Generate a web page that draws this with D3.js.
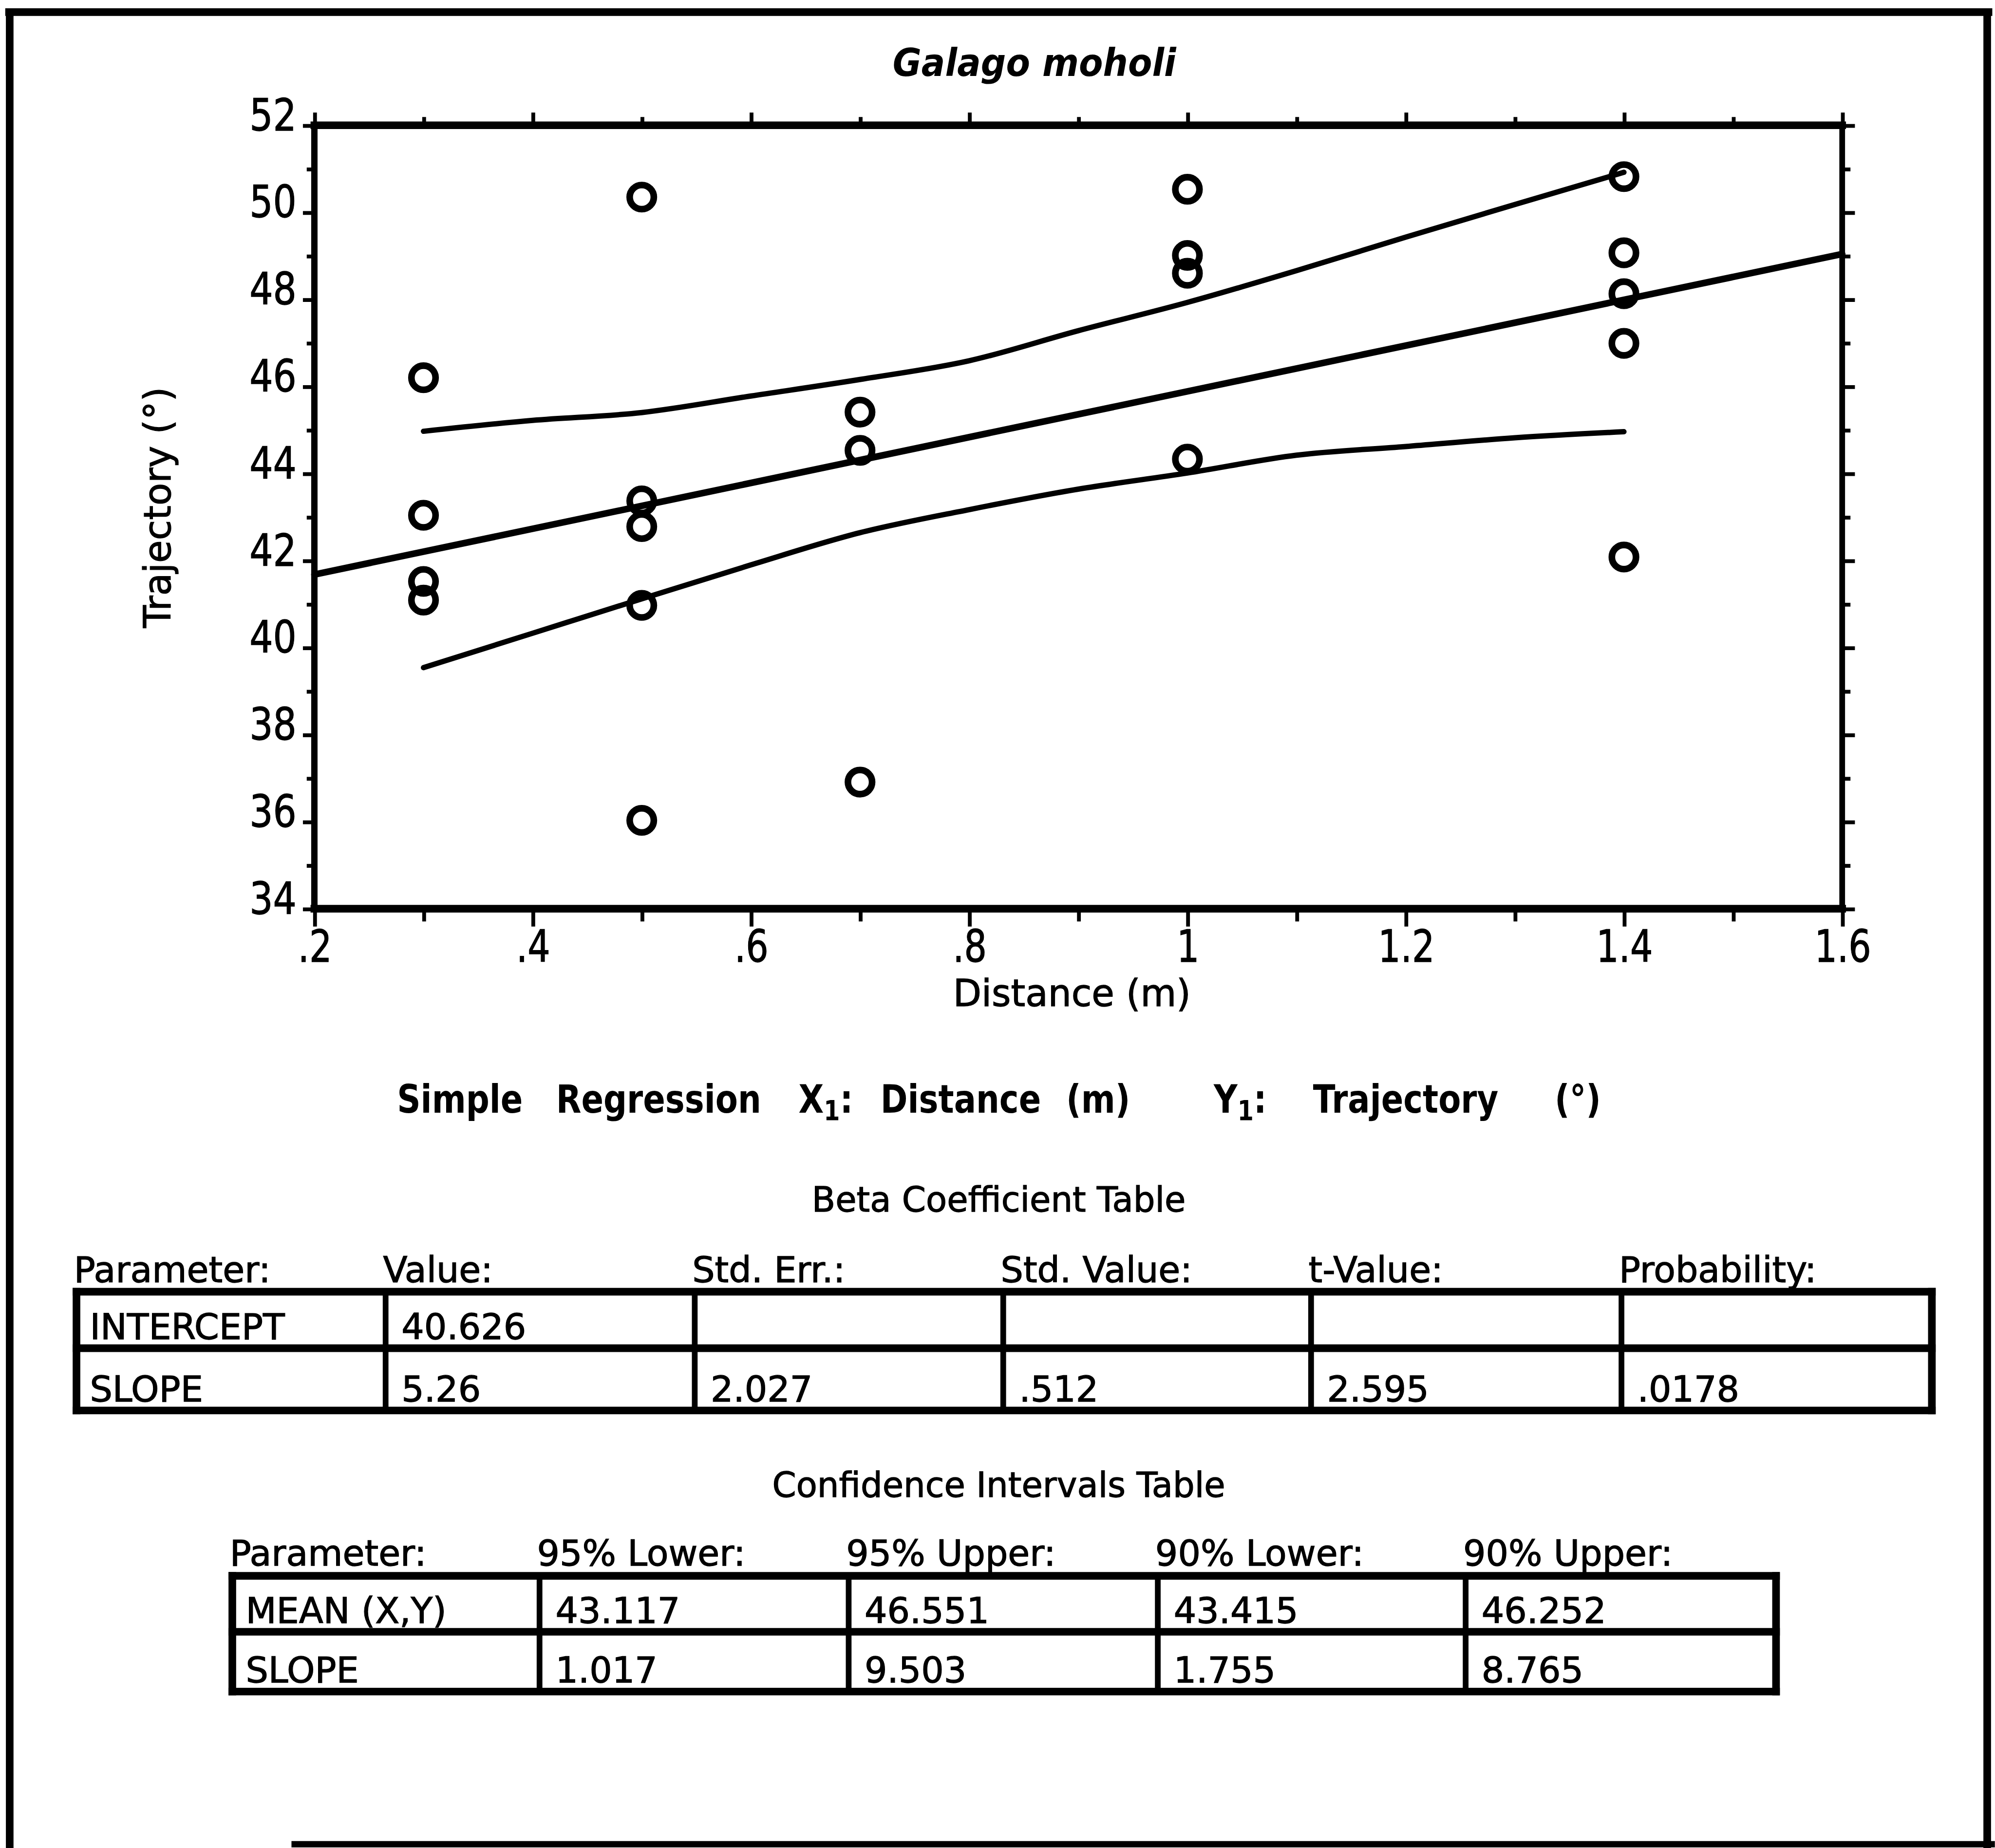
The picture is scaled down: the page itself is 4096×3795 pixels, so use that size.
<!DOCTYPE html>
<html>
<head>
<meta charset="utf-8">
<script src="https://cdn.jsdelivr.net/npm/d3@7"></script>
<style>
  html, body { margin: 0; padding: 0; background: #fff; }
  svg { display: block; background: #fff; }
  text { font-family: "DejaVu Sans", sans-serif; fill: #000; }
  .heavy { stroke: #000; stroke-width: 0.5px; }
</style>
</head>
<body>
<svg id="chart"></svg>
<script>
// ---- data ----
const distance = [0.3, 0.3, 0.3, 0.3,
                  0.5, 0.5, 0.5, 0.5, 0.5,
                  0.7, 0.7, 0.7,
                  1.0, 1.0, 1.0, 1.0,
                  1.4, 1.4, 1.4, 1.4, 1.4];
const trajectory = [46.20, 43.04, 41.52, 41.09,
                    50.35, 43.37, 42.78, 40.97, 36.03,
                    45.41, 44.53, 36.91,
                    50.53, 49.01, 48.60, 44.33,
                    50.82, 49.07, 48.13, 46.99, 42.08];

const intercept = 40.626;
const slope = 5.26;
const fitX = [0.2, 1.6];

const bandX = [0.3, 0.4, 0.5, 0.6, 0.7, 0.8, 0.9, 1.0, 1.1, 1.2, 1.3, 1.4];
const bandUpper = [44.97, 45.22, 45.40, 45.78, 46.16, 46.59, 47.28, 47.93, 48.66, 49.43, 50.18, 50.92];
const bandLower = [39.54, 40.33, 41.12, 41.90, 42.64, 43.17, 43.64, 44.01, 44.42, 44.62, 44.82, 44.96];

const xMajor = [0.2, 0.4, 0.6, 0.8, 1.0, 1.2, 1.4, 1.6];
const xMajorLabels = [".2", ".4", ".6", ".8", "1", "1.2", "1.4", "1.6"];
const xMinor = [0.3, 0.5, 0.7, 0.9, 1.1, 1.3, 1.5];
const yMajor = [34, 36, 38, 40, 42, 44, 46, 48, 50, 52];
const yMinor = [35, 37, 39, 41, 43, 45, 47, 49, 51];

const chartTitle = "Galago moholi";
const xTitle = "Distance (m)";
const yTitle = "Trajectory (\u00b0)";

const regWords = ["Simple", "Regression", "X|1|:", "Distance", "(m)", "Y|1|:", "Trajectory", "(\u00b0)"];

const betaTitle = "Beta Coefficient Table";
const betaHeaders = ["Parameter:", "Value:", "Std. Err.:", "Std. Value:", "t-Value:", "Probability:"];
const betaRows = [
  ["INTERCEPT", "40.626", "", "", "", ""],
  ["SLOPE", "5.26", "2.027", ".512", "2.595", ".0178"]
];

const ciTitle = "Confidence Intervals Table";
const ciHeaders = ["Parameter:", "95% Lower:", "95% Upper:", "90% Lower:", "90% Upper:"];
const ciRows = [
  ["MEAN (X,Y)", "43.117", "46.551", "43.415", "46.252"],
  ["SLOPE", "1.017", "9.503", "1.755", "8.765"]
];

// ---- drawing (coordinates in a 1568 x 1453 box, scaled to the window) ----
const svg = d3.select("#chart")
  .attr("width", 4096)
  .attr("height", 3795)
  .attr("viewBox", "0 0 1568 1453");

function squeeze(sel, f) {
  sel.each(function () {
    const w = this.getComputedTextLength();
    d3.select(this).attr("textLength", w * f).attr("lengthAdjust", "spacingAndGlyphs");
  });
}

// outer frame
const frame = svg.append("g").attr("stroke", "#000").attr("fill", "none");
frame.append("line").attr("x1", 4).attr("x2", 1566).attr("y1", 9.5).attr("y2", 9.5).attr("stroke-width", 6);
frame.append("line").attr("x1", 7.5).attr("x2", 7.5).attr("y1", 7).attr("y2", 1453).attr("stroke-width", 6);
frame.append("line").attr("x1", 1562).attr("x2", 1562).attr("y1", 7).attr("y2", 1453).attr("stroke-width", 6);
frame.append("line").attr("x1", 229).attr("x2", 1568).attr("y1", 1450).attr("y2", 1450).attr("stroke-width", 5);

const x = d3.scaleLinear().domain([0.2, 1.6]).range([247, 1448]);
const y = d3.scaleLinear().domain([34, 52]).range([714.5, 98.5]);

function styleAxis(g) {
  g.select(".domain").remove();
  g.attr("font-family", null).attr("font-size", null);
  g.selectAll(".tick line").attr("stroke", "#000").attr("stroke-width", 3);
}

// bottom axis
const gb = svg.append("g").attr("transform", `translate(0,${y(34)})`)
  .call(d3.axisBottom(x).tickValues(xMajor).tickSize(14).tickFormat((d, i) => xMajorLabels[i]))
  .call(styleAxis);
gb.selectAll("text").attr("y", 41.5).attr("dy", 0).attr("class", "heavy")
  .style("font-size", "35px").call(squeeze, 0.8);
svg.append("g").attr("transform", `translate(0,${y(34)})`)
  .call(d3.axisBottom(x).tickValues(xMinor).tickSize(10).tickFormat(""))
  .call(styleAxis);

// top axis
svg.append("g").attr("transform", `translate(0,${y(52)})`)
  .call(d3.axisTop(x).tickValues(xMajor).tickSize(10).tickFormat(""))
  .call(styleAxis);
svg.append("g").attr("transform", `translate(0,${y(52)})`)
  .call(d3.axisTop(x).tickValues(xMinor).tickSize(6.5).tickFormat(""))
  .call(styleAxis);

// left axis
const gl = svg.append("g").attr("transform", `translate(${x(0.2)},0)`)
  .call(d3.axisLeft(y).tickValues(yMajor).tickSize(9).tickFormat(d3.format("d")))
  .call(styleAxis);
gl.selectAll("text").attr("x", -14).attr("y", 3.5).attr("dy", 0).attr("class", "heavy")
  .style("font-size", "35px").call(squeeze, 0.83);
svg.append("g").attr("transform", `translate(${x(0.2)},0)`)
  .call(d3.axisLeft(y).tickValues(yMinor).tickSize(6).tickFormat(""))
  .call(styleAxis);

// right axis
svg.append("g").attr("transform", `translate(${x(1.6)},0)`)
  .call(d3.axisRight(y).tickValues(yMajor).tickSize(10).tickFormat(""))
  .call(styleAxis);
svg.append("g").attr("transform", `translate(${x(1.6)},0)`)
  .call(d3.axisRight(y).tickValues(yMinor).tickSize(6.5).tickFormat(""))
  .call(styleAxis);

// plot frame
const pf = svg.append("g").attr("stroke", "#000").attr("stroke-linecap", "square");
pf.append("line").attr("x1", x(0.2)).attr("x2", x(1.6)).attr("y1", y(52)).attr("y2", y(52)).attr("stroke-width", 6);
pf.append("line").attr("x1", x(0.2)).attr("x2", x(1.6)).attr("y1", y(34)).attr("y2", y(34)).attr("stroke-width", 6);
pf.append("line").attr("x1", x(0.2)).attr("x2", x(0.2)).attr("y1", y(52)).attr("y2", y(34)).attr("stroke-width", 5);
pf.append("line").attr("x1", x(1.6)).attr("x2", x(1.6)).attr("y1", y(52)).attr("y2", y(34)).attr("stroke-width", 4.5);

// regression line and confidence bands
const line = d3.line().x(d => x(d[0])).y(d => y(d[1]));
svg.append("path")
  .datum(fitX.map(v => [v, intercept + slope * v]))
  .attr("d", line).attr("fill", "none").attr("stroke", "#000").attr("stroke-width", 5.2).attr("stroke-linecap", "round");
[bandUpper, bandLower].forEach(band => {
  svg.append("path")
    .datum(bandX.map((v, i) => [v, band[i]]))
    .attr("d", line.curve(d3.curveMonotoneX)).attr("fill", "none").attr("stroke", "#000").attr("stroke-width", 4.2)
    .attr("stroke-linecap", "round").attr("stroke-linejoin", "round");
});

// points
svg.append("g").selectAll("circle")
  .data(distance.map((d, i) => [d, trajectory[i]]))
  .join("circle")
  .attr("cx", d => x(d[0]))
  .attr("cy", d => y(d[1]))
  .attr("r", 9.5)
  .attr("fill", "none")
  .attr("stroke", "#000")
  .attr("stroke-width", 5.2);

// titles
svg.append("text").attr("transform", "translate(813,59.7) scale(0.92,1)").attr("text-anchor", "middle")
  .style("font-size", "30px").style("font-weight", "bold").style("font-style", "italic")
  .text(chartTitle);
svg.append("text").attr("x", 842.5).attr("y", 791).attr("text-anchor", "middle").attr("class", "heavy")
  .style("font-size", "29px").text(xTitle);
svg.append("text").attr("transform", "translate(134,399) rotate(-90)").attr("text-anchor", "middle")
  .attr("class", "heavy").style("font-size", "29px").text(yTitle);

// "Simple Regression ..." line, drawn in a condensed bold
const regX = [312, 437, 627.6, 692, 838, 954, 1032, 1222];
regWords.forEach((w, i) => {
  const t = svg.append("text").attr("transform", `translate(${regX[i]},875) scale(0.83,1)`)
    .style("font-size", "31px").style("font-weight", "bold");
  const parts = w.split("|");
  if (parts.length === 3) {
    t.append("tspan").text(parts[0]);
    t.append("tspan").attr("dy", 6).style("font-size", "22px").text(parts[1]);
    t.append("tspan").attr("dy", -6).text(parts[2]);
  } else {
    t.text(w);
  }
});

// tables
function drawTable(title, titleY, headers, rows, cols, rowsY, headerY) {
  svg.append("text").attr("x", 785).attr("y", titleY).attr("text-anchor", "middle")
    .attr("class", "heavy").style("font-size", "27px").text(title);
  const g = svg.append("g");
  g.selectAll(".hdr").data(headers).join("text")
    .attr("x", (d, i) => cols[i] - 2).attr("y", headerY).attr("class", "heavy")
    .style("font-size", "28px").text(d => d);
  rows.forEach((row, r) => {
    g.selectAll(".c" + r).data(row).join("text")
      .attr("x", (d, i) => cols[i] + (i === 0 ? 10.5 : 12.5))
      .attr("y", rowsY[r + 1] - 7).attr("class", "heavy")
      .style("font-size", "28px").text(d => d);
  });
  const L = cols[0], R = cols[cols.length - 1];
  const lines = g.append("g").attr("stroke", "#000").attr("stroke-linecap", "square");
  rowsY.forEach(yy => lines.append("line").attr("x1", L).attr("x2", R).attr("y1", yy).attr("y2", yy).attr("stroke-width", 6));
  cols.forEach((xx, i) => lines.append("line").attr("x1", xx).attr("x2", xx)
    .attr("y1", rowsY[0]).attr("y2", rowsY[rowsY.length - 1])
    .attr("stroke-width", (i === 0 || i === cols.length - 1) ? 6 : 4.5));
}

drawTable(betaTitle, 952.7, betaHeaders, betaRows,
  [60, 303, 546, 788.5, 1030.5, 1274.5, 1518.5], [1015.6, 1060, 1109], 1008);
drawTable(ciTitle, 1177, ciHeaders, ciRows,
  [182.5, 424, 667, 910, 1152, 1396], [1239, 1283, 1330], 1231);
</script>
</body>
</html>
